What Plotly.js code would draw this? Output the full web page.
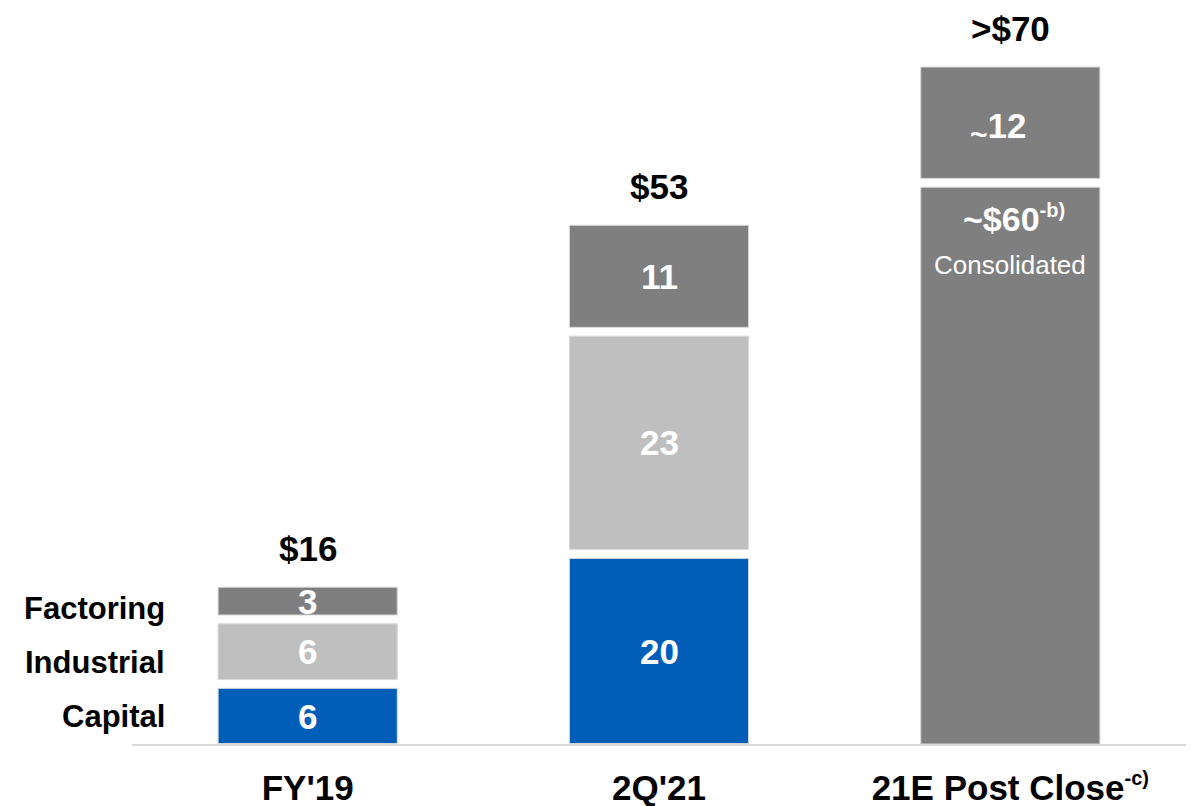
<!DOCTYPE html>
<html>
<head>
<meta charset="utf-8">
<script src="https://cdn.plot.ly/plotly-3.0.1.min.js"></script>
<style>html,body{margin:0;padding:0;background:#fff;}#chart{width:1191px;height:806px;}</style>
</head>
<body>
<div id="chart"></div>
<script>
// ---- data ----
const categories = ["FY'19", "2Q'21", "21E Post Close<sup><span style=\"font-size:20px\">-c)</span></sup>"];
const capital    = [6, 20, 0];
const industrial = [6, 23, 0];
const factoring  = [3, 11, 0];
const consolidated = [0, 0, 60];
const postClose  = [0, 0, 12];
const totalLabels = ["$16", "$53", ">$70"];
const segmentNames = ["Capital", "Industrial", "Factoring"];

// ---- style ----
const FONT = "Liberation Sans, Arial, sans-serif";
const BLUE = "#005EB8", LGRAY = "#BFBFBF", DGRAY = "#7F7F7F";
const GAP = 0.95; // visual gap between stacked segments (axis units)
const BW = 0.51;

const stacks = [
  {vals: capital, color: BLUE},
  {vals: industrial, color: LGRAY},
  {vals: factoring, color: DGRAY},
];
const stacks21 = [
  {vals: consolidated, color: DGRAY},
  {vals: postClose, color: DGRAY},
];

const traces = [];
const annotations = [];
const tops = [0, 0, 0];
const segCount = [0, 0, 0];

function addStack(list) {
  list.forEach((s) => {
    const base = [], y = [];
    for (let i = 0; i < categories.length; i++) {
      const v = s.vals[i];
      if (v > 0) {
        const b = tops[i] + (segCount[i] > 0 ? GAP : 0);
        base.push(b); y.push(v);
        tops[i] = b + v; segCount[i]++;
      } else { base.push(0); y.push(0); }
    }
    traces.push({
      type: 'bar', x: categories, y: y, base: base, width: BW,
      marker: {color: s.color, line: {color: '#D9D9D9', width: 1}},
      hoverinfo: 'skip', showlegend: false
    });
    s.base = base;
  });
}
addStack(stacks);
addStack(stacks21);

// segment value labels (FY'19, 2Q'21)
stacks.forEach((s) => {
  for (let i = 0; i < 2; i++) {
    const v = s.vals[i];
    annotations.push({
      x: categories[i], y: s.base[i] + v / 2, xref: 'x', yref: 'y',
      text: String(v), showarrow: false,
      font: {family: FONT, size: 35, color: '#fff', weight: 'bold'}
    });
  }
});
// 21E labels
annotations.push({
  x: categories[2], y: stacks21[1].base[2] + postClose[2] / 2, xref: 'x', yref: 'y',
  text: '<sub><span style="font-size:30px">~</span></sub>' + postClose[2], showarrow: false, xshift: -12, yshift: -6,
  font: {family: FONT, size: 35, color: '#fff', weight: 'bold'}
});
annotations.push({
  x: categories[2], y: stacks21[0].base[2] + consolidated[2], xref: 'x', yref: 'y',
  text: '~$' + consolidated[2] + '<sup><span style="font-size:20px">-b)</span></sup>', showarrow: false, yanchor: 'top', yshift: -10, xshift: 4,
  font: {family: FONT, size: 34, color: '#fff', weight: 'bold'}
});
annotations.push({
  x: categories[2], y: stacks21[0].base[2] + consolidated[2], xref: 'x', yref: 'y',
  text: 'Consolidated', showarrow: false, yanchor: 'top', yshift: -61,
  font: {family: FONT, size: 26, color: '#fff'}
});
// totals
for (let i = 0; i < categories.length; i++) {
  annotations.push({
    x: categories[i], y: tops[i], xref: 'x', yref: 'y',
    text: totalLabels[i], showarrow: false, yanchor: 'bottom', yshift: 17,
    font: {family: FONT, size: 35, color: '#000', weight: 'bold'}
  });
}
// side labels
segmentNames.forEach((n, k) => {
  annotations.push({
    x: -0.4, y: [3.0, 8.8, 14.6][k], xref: 'x', yref: 'y',
    text: n, showarrow: false, xanchor: 'right',
    font: {family: FONT, size: 31, color: '#000', weight: 'bold'}
  });
});

const layout = {
  width: 1191, height: 806,
  margin: {l: 132, r: 5, t: 0, b: 62},
  paper_bgcolor: '#fff', plot_bgcolor: '#fff',
  barmode: 'overlay',
  showlegend: false,
  xaxis: {
    type: 'category', range: [-0.5, 2.5],
    showline: true, linecolor: '#D9D9D9', linewidth: 2,
    ticks: '', showgrid: false, zeroline: false,
    tickfont: {family: FONT, size: 35, color: '#000', weight: 'bold'},
    ticklabelstandoff: 12
  },
  yaxis: {
    range: [0, 744 / 9.28], visible: false, showgrid: false, zeroline: false
  },
  annotations: annotations
};

Plotly.newPlot('chart', traces, layout, {staticPlot: true, displayModeBar: false});
</script>
</body>
</html>
